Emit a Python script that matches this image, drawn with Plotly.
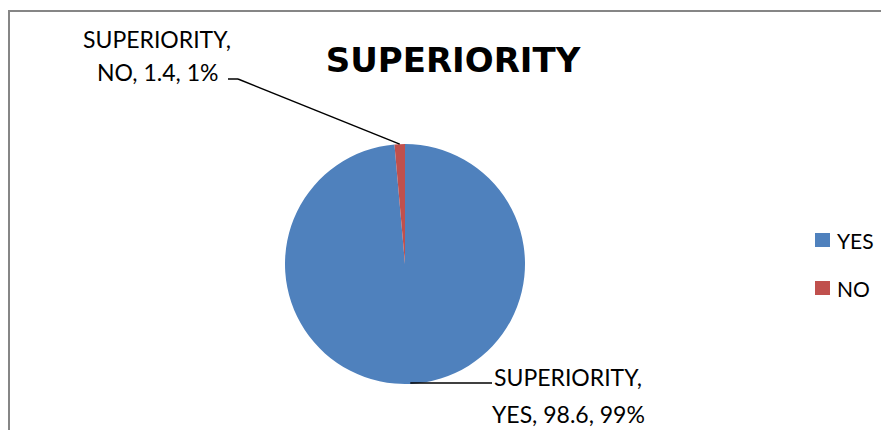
import math
import plotly.graph_objects as go

W, H = 889, 430
OFF = 8  # page body margin offset

title = "SUPERIORITY"
series_name = "SUPERIORITY"
labels = ["YES", "NO"]
values = [98.6, 1.4]
percents = ["99%", "1%"]
colors = ["#4F81BD", "#C0504D"]

FONT = "Lato"
TFONT = "DejaVu Sans"

# pie geometry in (screen) pixels
cx, cy, r = 405, 264, 120

def px(x):
    return (x - OFF) / W

def py(y):
    return 1 - (y - OFF) / H

fig = go.Figure(go.Pie(
    labels=labels,
    values=values,
    marker=dict(colors=colors, line=dict(width=0)),
    sort=False,
    direction="clockwise",
    rotation=0,
    textinfo="none",
    hoverinfo="label+value+percent",
    showlegend=False,
    domain=dict(x=[px(cx - r), px(cx + r)], y=[py(cy + r), py(cy - r)]),
))

# slice mid angles (clockwise from 12 o'clock) computed from data
total = sum(values)
cum = 0
edge = []
for v in values:
    mid = (cum + v / 2) / total * 2 * math.pi
    edge.append((cx + r * math.sin(mid), cy - r * math.cos(mid)))
    cum += v

shapes = []
annotations = []

label_pos = {
    "YES": dict(x=568, y1=377, y2=414, elbow=(492, 383)),
    "NO": dict(x=157, y1=39, y2=72, elbow=(228, 79), bend=(238, 79)),
}

for i, lab in enumerate(labels):
    p = label_pos[lab]
    ex, ey = edge[i]
    annotations.append(dict(text=f"{series_name},", x=px(p["x"]), y=py(p["y1"]),
                            xref="paper", yref="paper", showarrow=False,
                            font=dict(family=FONT, size=23, color="#000000"),
                            xanchor="center", yanchor="middle"))
    annotations.append(dict(text=f"{lab}, {values[i]}, {percents[i]}", x=px(p["x"]), y=py(p["y2"]),
                            xref="paper", yref="paper", showarrow=False,
                            font=dict(family=FONT, size=23, color="#000000"),
                            xanchor="center", yanchor="middle"))
    sx, sy = p["elbow"]
    if lab == "YES":
        shapes.append(dict(type="line", xref="paper", yref="paper",
                           x0=px(ex), y0=py(sy), x1=px(sx), y1=py(sy),
                           line=dict(color="#000000", width=1.5)))
    else:
        bx, by = p["bend"]
        shapes.append(dict(type="line", xref="paper", yref="paper",
                           x0=px(sx), y0=py(sy), x1=px(bx), y1=py(by),
                           line=dict(color="#000000", width=1.5)))
        shapes.append(dict(type="line", xref="paper", yref="paper",
                           x0=px(bx), y0=py(by), x1=px(ex), y1=py(ey),
                           line=dict(color="#000000", width=1.5)))

# manual legend
leg_x, leg_y0, leg_gap = 815, 240, 48
for i, lab in enumerate(labels):
    yy = leg_y0 + i * leg_gap
    shapes.append(dict(type="rect", xref="paper", yref="paper",
                       x0=px(leg_x), x1=px(leg_x + 15), y0=py(yy - 7), y1=py(yy + 7),
                       fillcolor=colors[i], line=dict(width=0)))
    annotations.append(dict(text=lab, x=px(leg_x + 20), y=py(yy), xref="paper", yref="paper",
                            showarrow=False, xanchor="left", yanchor="middle",
                            font=dict(family=FONT, size=21, color="#000000")))

# chart border
shapes.append(dict(type="rect", xref="paper", yref="paper",
                   x0=px(9), x1=1.05, y0=-0.05, y1=py(11),
                   line=dict(color="#868686", width=2), fillcolor="rgba(0,0,0,0)"))

fig.update_layout(
    width=W, height=H,
    margin=dict(l=0, r=0, t=0, b=0),
    paper_bgcolor="white",
    plot_bgcolor="white",
    title=dict(text=f"<b>{title}</b>", x=px(453), y=py(60), xanchor="center", yanchor="middle",
               font=dict(family=TFONT, size=34, color="#000000")),
    shapes=shapes,
    annotations=annotations,
)

fig.write_html("out.html")
